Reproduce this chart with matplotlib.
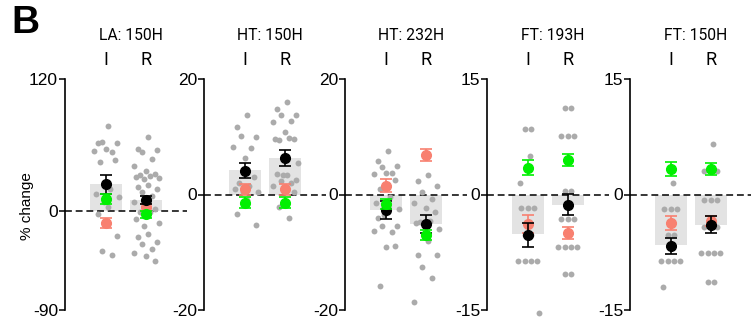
import matplotlib
matplotlib.use("Agg")
import matplotlib.pyplot as plt
import matplotlib.transforms as mtransforms
import numpy as np

plt.rcParams['font.family'] = ['Liberation Sans', 'DejaVu Sans']

titles = ["LA: 150H", "HT: 150H", "HT: 232H", "FT: 193H", "FT: 150H"]
conditions = ["I", "R"]
ylims = [(-90, 120), (-20, 20), (-20, 20), (-15, 15), (-15, 15)]
yticks = [[-90, 0, 120], [-20, 0, 20], [-20, 0, 20], [-15, 0, 15], [-15, 0, 15]]

# individual values (grey dots): [panel][condition]
la150_I = [77.6, 62, 61.5, 62.3, 53.3, 54.8, 56, 46.7, 44.2, 20, 15, 12.4, 8, 4, -2.7, -22.4, -36, -40]
la150_R = [67, 56, 55, 54, 47, 41, 36, 34, 33, 32, 31, 30, 29, 24, 22, 20, 17, 14, 8, 5, 2, -1, -0.5,
           -7, -11, -14, -21, -24, -28, -30, -35, -38, -41, -45]
ht150_I = [13.8, 11.7, 10, 10.1, 8.1, 8.2, 6.4, 3, 2, 1.5, 1, 0.4, 0.5, -1, -3.3, -5.2]
ht150_R = [16, 14.8, 13.8, 13.7, 12.7, 12.6, 10.8, 9.6, 9.5, 9.7, 9.65, 5.4, 3.4, 3.3, 3.5, 2.5, 2.4,
           2, 1.5, 1, 0.5, -2.1, -4.1]
ht232_I = [7.6, 5.8, 4.9, 4.8, 3.7, 3.6, 3.8, 2.5, 1, -0.5, -1.5, -2.5, -3.5, -3, -4, -5.5, -5.4,
           -6.5, -6.4, -9.1, -9.0, -15.8]
ht232_R = [3.3, 2.4, 1.4, 0.5, -0.7, -1.5, -2.4, -3, -4.7, -4.6, -5, -6, -7, -8, -10.5, -10.4,
           -12.6, -14.5, -18.7]
ft193_I = [8.45, 8.45, 5.0, 1.5, -1.7, -1.7, -1.7, -5.2, -5.2, -8.7, -8.7, -8.7, -8.7, -15.4]
ft193_R = [11.2, 11.2, 7.6, 7.6, 7.6, 0.5, 0.5, -3.2, -3.2, -3.2, -6.8, -6.8, -6.8, -6.8, -10.3, -10.3]
ft150_I = [1.5, -1.9, -1.9, -1.9, -5.2, -5.2, -8.6, -8.6, -8.6, -8.6, -12.0]
ft150_R = [6.5, 3.0, 3.0, 3.0, -0.7, -0.7, -0.7, -4.2, -4.2, -4.2, -7.6, -7.6, -7.6, -7.6, -11.3, -11.3]
dots = [[la150_I, la150_R], [ht150_I, ht150_R], [ht232_I, ht232_R], [ft193_I, ft193_R], [ft150_I, ft150_R]]

bar_vals = [[24.5, 10], [4.2, 6.3], [-2.6, -5.1], [-5.1, -1.3], [-6.6, -4.0]]

black_mean = [[24.2, 10], [4.1, 6.3], [-2.7, -5.1], [-5.2, -1.3], [-6.7, -3.9]]
black_sem = [[8.8, 3.6], [1.3, 1.4], [1.5, 1.5], [1.56, 1.4], [1.04, 1.08]]
salmon_mean = [[-11, 3.3], [0.9, 0.9], [1.5, 6.8], [-3.8, -5.0], [-3.7, -3.4]]
salmon_sem = [[4.5, 3.0], [0.9, 1.0], [1.1, 1.0], [1.15, 0.8], [0.87, 0.65]]
green_mean = [[11, -3], [-1.4, -1.4], [-1.6, -7.0], [3.5, 4.5], [3.3, 3.3]]
green_sem = [[4.5, 3.0], [0.9, 1.0], [0.9, 0.9], [1.0, 0.8], [0.87, 0.75]]

W, H = 751, 331
fig = plt.figure(figsize=(W / 100, H / 100), dpi=100)

spine_px = [65, 204, 345, 487, 630]
ax_w_px, top_px, bot_px = 122, 79, 310
pref = [0.15, -0.55, 0.8, -0.25, 0.45, -0.85, 0.0, 0.65, -0.4, 0.3, -0.7, 0.9, -0.1]

def jitter(vals):
    vals = np.asarray(vals, dtype=float)
    offs = np.zeros(len(vals))
    uniq = {}
    for i, v in enumerate(vals):
        uniq.setdefault(v, []).append(i)
    k = 0
    for v, idx in uniq.items():
        n = len(idx)
        if n == 1:
            offs[idx[0]] = pref[k % len(pref)] * 0.36
            k += 1
        else:
            for j, ii in enumerate(idx):
                offs[ii] = (j - (n - 1) / 2) * 0.16
    return offs

for p in range(5):
    left = spine_px[p] / W
    bottom = 1 - bot_px / H
    ax = fig.add_axes([left, bottom, ax_w_px / W, (bot_px - top_px) / H])
    xs = np.array([1.0, 2.0])
    ax.bar(xs, bar_vals[p], width=0.8, color='#e3e3e3', zorder=1)
    ax.axhline(0, color='black', lw=1.1, linestyle=(0, (4.5, 2.5)), zorder=2)
    for c in range(2):
        vals = dots[p][c]
        ax.scatter(xs[c] + jitter(vals), vals, s=18, color='#ababab', linewidths=0,
                   zorder=3, clip_on=False)
    for means, sems, col, z in [(salmon_mean, salmon_sem, '#f88070', 4),
                                (black_mean, black_sem, 'black', 5),
                                (green_mean, green_sem, '#00f000', 6)]:
        ax.errorbar(xs, means[p], yerr=sems[p], fmt='o', color=col, ms=7, capsize=4,
                    elinewidth=1.2, capthick=1.2, zorder=z, clip_on=False)
    ax.set_xlim(-0.02, 3.03)
    ax.set_ylim(*ylims[p])
    ax.set_yticks(yticks[p])
    ax.set_yticklabels([str(t) for t in yticks[p]])
    ax.tick_params(axis='y', length=4, width=1.1, labelsize=12.5, pad=1)
    ax.set_xticks([])
    for s in ['top', 'right', 'bottom']:
        ax.spines[s].set_visible(False)
    ax.spines['left'].set_linewidth(1.2)
    ax.patch.set_alpha(0)
    trans = mtransforms.blended_transform_factory(ax.transData, ax.transAxes)
    for c in range(2):
        ax.text(xs[c], 1.082, conditions[c], transform=trans, ha='center', va='center',
                fontsize=13, family=['Roboto', 'DejaVu Sans'])
    ax.text(0.54, 1.19, titles[p], transform=ax.transAxes, ha='center', va='center',
            fontsize=11.3, family=['Roboto', 'DejaVu Sans'])
    if p == 0:
        ax.set_ylabel('% change', fontsize=11)
        ax.yaxis.set_label_coords(-0.255, 0.45)

fig.text(25 / W, 1 - 23 / H, 'B', ha='center', va='center', fontsize=28, fontweight='bold')
fig.savefig('out.png', dpi=100)
